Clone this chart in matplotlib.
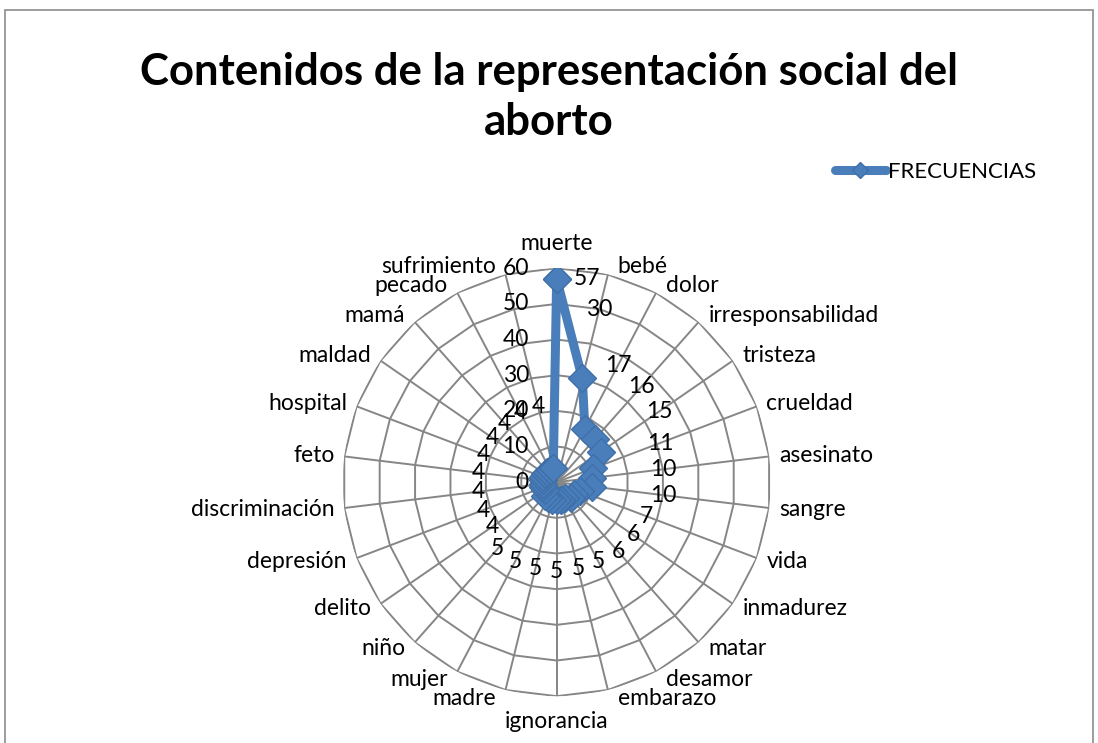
import numpy as np
import matplotlib.pyplot as plt
from matplotlib.patches import Rectangle

categorias = ["muerte", "bebé", "dolor", "irresponsabilidad", "tristeza", "crueldad",
              "asesinato", "sangre", "vida", "inmadurez", "matar", "desamor",
              "embarazo", "ignorancia", "madre", "mujer", "niño", "delito",
              "depresión", "discriminación", "feto", "hospital", "maldad", "mamá",
              "pecado", "sufrimiento"]
frecuencias = [57, 30, 17, 16, 15, 11, 10, 10, 7, 6, 6, 5, 5, 5, 5, 5, 5,
               4, 4, 4, 4, 4, 4, 4, 4, 4]
ticks_r = [0, 10, 20, 30, 40, 50, 60]

plt.rcParams['font.family'] = ['Lato', 'DejaVu Sans']

fig = plt.figure(figsize=(10.98, 7.43), dpi=100)
fig.patches.append(Rectangle((5 / 1098, -0.1), 1088 / 1098, 1.1 - 10 / 743,
                             transform=fig.transFigure, fill=False,
                             edgecolor='#8c8c8c', linewidth=1.2))

fig.text(0.5, 1 - 97 / 743, "Contenidos de la representación social del\naborto",
         ha='center', va='center', fontsize=31.5, fontweight='bold', linespacing=1.32)

ax = fig.add_axes([0.312, 0.063, 0.39, 0.576], projection='polar')
ax.set_theta_zero_location('N')
ax.set_theta_direction(-1)
ax.set_ylim(0, 60)
ax.grid(False)
ax.spines['polar'].set_visible(False)
ax.set_xticks([])
ax.set_yticks([])
ax.patch.set_alpha(0)

n = len(categorias)
theta = np.linspace(0, 2 * np.pi, n, endpoint=False)
theta_c = np.append(theta, theta[0])

gris = '#868686'
for r in ticks_r[1:]:
    ax.plot(theta_c, [r] * (n + 1), color=gris, lw=1.4, zorder=1)
for t in theta:
    ax.plot([t, t], [0, 60], color=gris, lw=1.4, zorder=1)

# etiquetas del eje radial
for r in ticks_r:
    ax.annotate(str(r), xy=(0, r), xytext=(-20, 0), textcoords='offset points',
                ha='right', va='center', fontsize=16.5)

vals = np.array(frecuencias, dtype=float)
ax.plot(theta_c, np.append(vals, vals[0]), color='#4A7EBB', lw=6.5, marker='D',
        markersize=14, markerfacecolor='#4A7EBB', markeredgecolor='#3F6FA8',
        zorder=5, label='FRECUENCIAS', solid_joinstyle='round', solid_capstyle='round')

# etiquetas de datos
for t, v in zip(theta, vals):
    if v > 40:
        ax.annotate(f"{v:.0f}", xy=(t, v), xytext=(12, 0), textcoords='offset points',
                    ha='left', va='center', fontsize=16.5, zorder=6)
    else:
        extra = 18 if v < 4.5 else 20
        ax.text(t, v + extra, f"{v:.0f}", ha='center', va='center', fontsize=16.5, zorder=6)

# categorias
for t, c in zip(theta, categorias):
    s, co = np.sin(t), np.cos(t)
    if abs(s) < 0.15:
        ax.annotate(c, xy=(t, 60), xytext=(0, 18 * co), textcoords='offset points',
                    ha='center', va='center', fontsize=16.5)
    else:
        ha = 'left' if s > 0 else 'right'
        ax.annotate(c, xy=(t, 60), xytext=(7 * np.sign(s), 6 * co),
                    textcoords='offset points', ha=ha, va='center', fontsize=16.5)

fig.legend(loc='center left', bbox_to_anchor=(0.752, 1 - 172 / 743), frameon=False,
           fontsize=16, handlelength=2.3, handletextpad=0.1, borderaxespad=0,
           markerscale=0.6)

fig.savefig('out.png', dpi=100)
